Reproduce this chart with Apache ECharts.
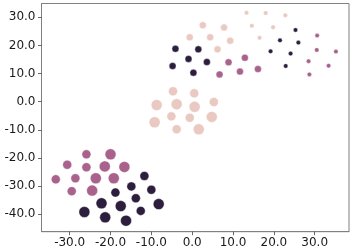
<!DOCTYPE html>
<html>
<head>
<meta charset="utf-8">
<script src="https://cdn.jsdelivr.net/npm/echarts@6/dist/echarts.min.js"></script>
<style>html,body{margin:0;padding:0;background:#fff;}#c{width:355px;height:252px;}</style>
</head>
<body>
<div id="c"></div>
<script>
// [x, y, size] per hue level
var lightPts = [
  [13.3,31.6,4.5],[2.6,27.2,7],[7.8,26.4,7],[14.6,27.0,4.5],[-0.6,22.9,7],[4.4,22.9,7],
  [9.3,21.7,7],[16.5,22.7,4.5],[6.2,18.6,7],[18.0,31.5,4.5],[22.8,30.7,4.5],[19.8,26.5,4.5],
  [-4.7,3.7,9],[0.5,3.0,9],[-8.7,-1.2,11],[-3.8,-0.9,11],[0.6,-1.8,11],[5.3,-0.1,9],
  [-5.1,-5.2,9],[-0.6,-5.7,9],[4.8,-5.4,11],[-9.2,-7.3,11],[-3.8,-9.8,9],[1.6,-9.8,11]
];
var midPts = [
  [12.9,15.6,7],[8.9,14.0,7],[11.7,10.7,7],[16.1,11.6,7],[6.7,9.7,7],
  [30.6,23.5,4.5],[30.5,18.4,4.5],[35.2,17.8,4.5],[28.5,14.4,4.5],[33.4,12.8,4.5],[28.7,9.7,4.5],
  [-25.9,-18.7,9],[-20.0,-18.7,11],[-30.6,-22.4,9],[-25.9,-23.3,9],[-21.4,-23.0,11],[-16.6,-23.2,11],
  [-33.4,-27.6,9],[-28.6,-27.2,9],[-23.6,-27.2,11],[-19.2,-27.2,11],[-29.5,-31.8,9],[-24.5,-31.6,11]
];
var darkPts = [
  [-4.1,18.8,7],[1.5,18.6,7],[-0.9,15.2,7],[3.6,14.1,7],[-4.8,12.7,7],[0.3,10.3,7],
  [25.3,25.5,4.5],[21.5,21.8,4.5],[26.0,21.0,4.5],[19.2,17.9,4.5],[24.1,17.1,4.5],[22.9,12.7,4.5],
  [-11.7,-26.4,9],[-14.9,-30.1,9],[-10.0,-31.3,9],[-18.8,-32.3,9],[-13.8,-34.3,9],[-22.2,-36.1,11],
  [-17.5,-37.1,11],[-8.2,-36.4,11],[-26.4,-39.2,11],[-12.6,-38.8,9],[-21.3,-41.1,11],[-16.2,-42.3,11]
];
var xTicks = [-30,-20,-10,0,10,20,30];
var yTicks = [-40,-30,-20,-10,0,10,20,30];

var chart = echarts.init(document.getElementById('c'), null, {renderer:'canvas'});
function ser(data, color){
  return {type:'scatter', data:data, symbol:'circle', symbolSize:function(v){return v[2];},
    itemStyle:{color:color, opacity:1, borderColor:'#ffffff', borderWidth:0.4},
    emphasis:{disabled:true}, animation:false};
}
function fmt(v){return v.toFixed(1);}
chart.setOption({
  animation:false,
  grid:{left:41.5, right:6, top:3.5, bottom:20.3, show:true, borderColor:'#808080', borderWidth:1},
  xAxis:{type:'value', min:-36.9, max:38.4,
    axisLine:{show:true, onZero:false, lineStyle:{color:'#808080', width:1}},
    axisTick:{show:true, length:3.5, customValues:xTicks, lineStyle:{color:'#444', width:0.8}},
    splitLine:{show:false},
    axisLabel:{customValues:xTicks, margin:5, fontFamily:'DejaVu Sans', fontSize:12, color:'#1a1a1a', formatter:fmt}},
  yAxis:{type:'value', min:-46.2, max:34.9,
    axisLine:{show:true, onZero:false, lineStyle:{color:'#808080', width:1}},
    axisTick:{show:true, length:3.5, customValues:yTicks, lineStyle:{color:'#444', width:0.8}},
    splitLine:{show:false},
    axisLabel:{customValues:yTicks, margin:6, fontFamily:'DejaVu Sans', fontSize:12, color:'#1a1a1a', formatter:fmt}},
  series:[ser(lightPts,'#e9c9c1'), ser(midPts,'#a8628c'), ser(darkPts,'#2d1e3e')]
});
</script>
</body>
</html>
